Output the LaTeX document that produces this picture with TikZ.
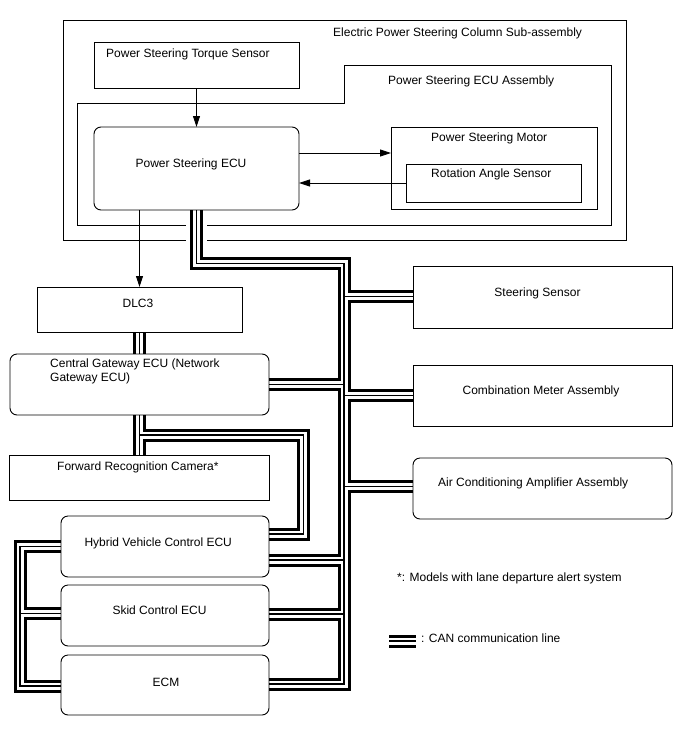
\documentclass[tikz,border=0pt]{standalone}
\usepackage{fontspec}
\setmainfont{Liberation Sans}
\usetikzlibrary{arrows.meta}
\pgfdeclarelayer{back}
\pgfdeclarelayer{bus}
\pgfsetlayers{back,bus,main}
\newcommand\canbus[1]{%
  \draw[#1] (pse.south) -- (196.5,263.5) -- (344,263.5) -- (344,684) -- (ecm.east |- 0,684);
  \draw[#1] (344,296.5) -- (ss.west |- 0,296.5);
  \draw[#1] (344,384.5) -- (cgw.east |- 0,384.5);
  \draw[#1] (344,395.5) -- (cma.west |- 0,395.5);
  \draw[#1] (344,486.5) -- (aca.west |- 0,486.5);
  \draw[#1] (344,560) -- (hv.east |- 0,560);
  \draw[#1] (344,614) -- (skid.east |- 0,614);
  \draw[#1] (dlc.south) -- (dlc.south |- cgw.north);
  \draw[#1] (cgw.south) -- (cgw.south |- frc.north);
  \draw[#1] (139.5,435) -- (303.5,435) -- (303.5,534) -- (hv.east |- 0,534);
  \draw[#1] (hv.west |- 0,546.7) -- (20,546.7) -- (20,686) -- (ecm.west |- 0,686);
  \draw[#1] (20,613.3) -- (skid.west |- 0,613.3);
  \draw[#1] (lg1) -- (lg2);
}
\tikzset{
  bx/.style={draw, line width=0.9pt, inner sep=0pt, outer sep=0pt, anchor=north west},
  rbx/.style={bx, rounded corners=7pt},
  tx/.style={inner sep=0pt, font=\fontsize{12}{14}\selectfont},
  arr/.style={line width=0.9pt, -{Triangle[length=11pt,width=7pt]}},
  busline/.style={line join=miter, line cap=butt},
}
\begin{document}
\begin{tikzpicture}[x=1pt, y=-1pt]
\useasboundingbox (0,0) rectangle (688,755);

% boxes
\begin{pgfonlayer}{back}
\node[bx, minimum width=563pt, minimum height=220pt] (epsc) at (63,20) {};
\draw[line width=0.9pt] (77,103) -- (344,103) -- (344,65) -- (611,65) -- (611,225) -- (77,225) -- cycle;
\draw[white, line width=21pt] (196.5,215) -- (196.5,250);
\end{pgfonlayer}

\node[bx, minimum width=205pt, minimum height=46pt] (ts) at (94,42) {};
\node[rbx, minimum width=205pt, minimum height=83pt] (pse) at (94,127) {};
\node[bx, minimum width=206pt, minimum height=82pt] (psm) at (391,127) {};
\node[bx, minimum width=175pt, minimum height=38pt] (ras) at (406,164) {};
\node[bx, minimum width=205pt, minimum height=45pt] (dlc) at (37,287) {};
\node[rbx, minimum width=259pt, minimum height=61pt] (cgw) at (10,354) {};
\node[bx, minimum width=260pt, minimum height=45pt] (frc) at (9,455) {};
\node[rbx, minimum width=208pt, minimum height=61pt] (hv) at (61,516) {};
\node[rbx, minimum width=208pt, minimum height=61pt] (skid) at (61,585) {};
\node[rbx, minimum width=208pt, minimum height=60pt] (ecm) at (61,655) {};
\node[bx, minimum width=259pt, minimum height=62pt] (ss) at (413,266) {};
\node[bx, minimum width=259pt, minimum height=61pt] (cma) at (413,365) {};
\node[rbx, minimum width=259pt, minimum height=61pt] (aca) at (413,458) {};
\coordinate (lg1) at (389,641);
\coordinate (lg2) at (416,641);

% CAN bus
\begin{pgfonlayer}{bus}
\canbus{busline, black, line width=13pt}
\canbus{busline, white, line width=7pt}
\canbus{busline, black, line width=1.5pt}
\end{pgfonlayer}

% arrows
\draw[arr] (ts.south) -- (ts.south |- pse.north);
\draw[arr] (pse.east |- 0,153) -- (psm.west |- 0,153);
\draw[arr] (ras.west |- 0,183) -- (pse.east |- 0,183);
\draw[arr] (dlc.north |- pse.south) -- (dlc.north);

% texts
\node[tx, anchor=base west] (t1) at (333,36) {Electric Power Steering Column Sub-assembly};
\node[tx, anchor=base west] (t2) at (106,57) {Power Steering Torque Sensor};
\node[tx, anchor=base west] (t3) at (388,84) {Power Steering ECU Assembly};
\node[tx, anchor=base] (t4) at (191,167) {Power Steering ECU};
\node[tx, anchor=base west] (t5) at (431,141) {Power Steering Motor};
\node[tx, anchor=base west] (t6) at (431,177) {Rotation Angle Sensor};
\node[tx, anchor=base] (t7) at (138,307) {DLC3};
\node[tx, anchor=base west] (t8) at (50,367) {Central Gateway ECU (Network};
\node[tx, anchor=base west] (t9) at (50,381) {Gateway ECU)};
\node[tx, anchor=base west] (t10) at (57,470) {Forward Recognition Camera*};
\node[tx, anchor=base west] (t11) at (84.3,546) {Hybrid Vehicle Control ECU};
\node[tx, anchor=base west] (t12) at (112.3,614) {Skid Control ECU};
\node[tx, anchor=base] (t13) at (166,686) {ECM};
\node[tx, anchor=base] (t14) at (537.5,296) {Steering Sensor};
\node[tx, anchor=base] (t15) at (541,394) {Combination Meter Assembly};
\node[tx, anchor=base west] (t16) at (438,486) {Air Conditioning Amplifier Assembly};
\node[tx, anchor=base west] (t17) at (397,581) {*: Models with lane departure alert system};
\node[tx, anchor=base west] (t18) at (421,642) {: CAN communication line};
\end{tikzpicture}
\end{document}
